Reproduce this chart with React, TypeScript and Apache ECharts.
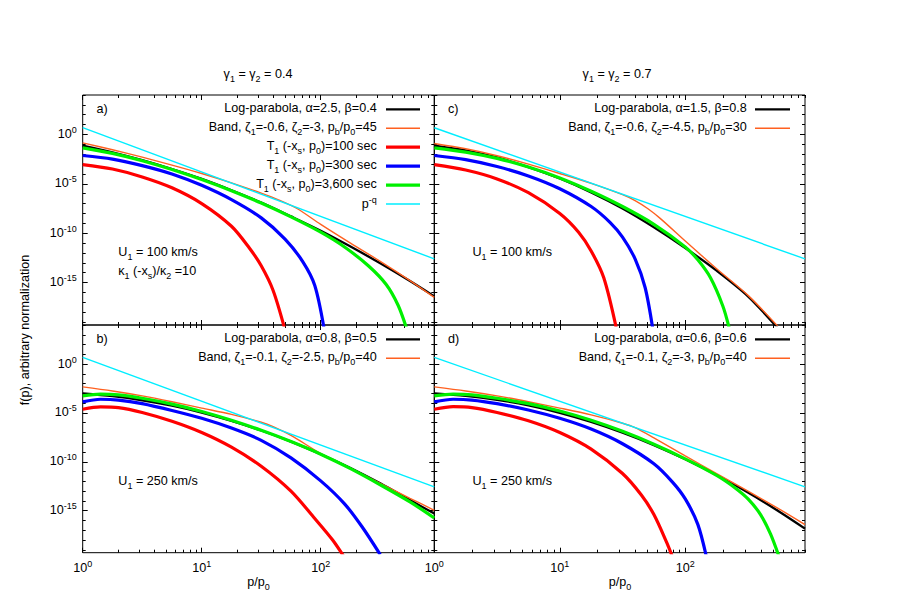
import { useEffect, useRef } from 'react';
import * as echarts from 'echarts';

// Every curve point is [log10(p/p0), log10 f(p)].
const A_LOGPAR = [[0,-1.12],[0.25,-1.8],[0.5,-2.6],[0.75,-3.5],[1,-4.5],[1.25,-5.65],[1.5,-6.9],[1.75,-8.3],[2,-9.75],[2.25,-11.35],[2.5,-13.05],[2.75,-14.85],[2.954,-16.4]];
const A_BAND = [[0,-0.85],[0.25,-1.55],[0.5,-2.3],[0.75,-3.1],[1,-3.95],[1.25,-4.9],[1.5,-5.95],[1.65,-6.65],[1.8,-7.5],[2,-9.1],[2.25,-11.0],[2.5,-12.85],[2.75,-14.8],[2.954,-16.5]];
const A_T100 = [[0,-3.05],[0.25,-3.5],[0.5,-4.3],[0.75,-5.4],[1,-7.0],[1.25,-9.3],[1.4,-11.5],[1.5,-13.3],[1.6,-15.8],[1.7,-19.8]];
const A_T300 = [[0,-2.13],[0.25,-2.5],[0.5,-3.15],[0.75,-4.0],[1,-5.15],[1.25,-6.6],[1.5,-8.45],[1.7,-10.6],[1.85,-12.9],[1.95,-15.3],[2.03,-19.8]];
const A_T3600 = [[0,-1.35],[0.25,-1.92],[0.5,-2.66],[0.75,-3.55],[1,-4.57],[1.25,-5.7],[1.5,-6.95],[1.75,-8.35],[2,-9.9],[2.2,-11.4],[2.4,-13.3],[2.55,-15.2],[2.65,-17.3],[2.72,-19.6]];
const A_PQ = [[0,0.7],[2.954,-12.6]];

const C_LOGPAR = [[0,-1.12],[0.25,-1.6],[0.5,-2.33],[0.75,-3.3],[1,-4.46],[1.25,-5.87],[1.5,-7.5],[1.75,-9.4],[2,-11.5],[2.25,-13.8],[2.5,-16.4],[2.75,-19.8]];
const C_BAND = [[0,-0.91],[0.25,-1.45],[0.5,-2.15],[0.75,-3.0],[1,-3.95],[1.25,-4.95],[1.5,-6.1],[1.6,-6.7],[1.7,-7.5],[1.8,-8.5],[2,-10.8],[2.25,-13.6],[2.5,-16.3],[2.75,-19.6]];
const C_T100 = [[0,-3.05],[0.25,-3.6],[0.5,-4.5],[0.75,-5.9],[1,-8.0],[1.15,-9.9],[1.25,-11.8],[1.35,-14.5],[1.45,-19.6]];
const C_T300 = [[0,-2.13],[0.25,-2.55],[0.5,-3.25],[0.75,-4.2],[1,-5.5],[1.25,-7.3],[1.4,-8.9],[1.5,-10.4],[1.6,-12.6],[1.68,-15.5],[1.74,-19.6]];
const C_T3600 = [[0,-1.35],[0.25,-1.78],[0.5,-2.42],[0.75,-3.3],[1,-4.4],[1.25,-5.75],[1.5,-7.3],[1.75,-9.1],[2,-11.4],[2.1,-12.7],[2.2,-14.5],[2.3,-17.4],[2.35,-19.6]];
const C_PQ = [[0,0.68],[2.954,-12.6]];

const B_LOGPAR = [[0,-3.01],[0.25,-3.28],[0.5,-3.7],[0.75,-4.26],[1,-4.96],[1.25,-5.81],[1.5,-6.8],[1.75,-7.93],[2,-9.22],[2.25,-10.63],[2.5,-12.2],[2.75,-13.91],[2.954,-15.3]];
const B_BAND = [[0,-2.33],[0.25,-2.75],[0.5,-3.25],[0.75,-3.85],[1,-4.5],[1.25,-5.15],[1.5,-5.95],[1.6,-6.4],[1.75,-7.3],[2,-9.15],[2.25,-10.7],[2.5,-12.2],[2.75,-13.73],[2.954,-14.96]];
const B_T100 = [[0,-4.62],[0.15,-4.38],[0.3,-4.45],[0.5,-4.95],[0.75,-5.85],[1,-7.0],[1.25,-8.5],[1.5,-10.45],[1.75,-13.0],[1.95,-15.8],[2.1,-18.0],[2.2,-19.8]];
const B_T300 = [[0,-3.87],[0.15,-3.6],[0.3,-3.68],[0.5,-4.05],[0.75,-4.75],[1,-5.55],[1.25,-6.55],[1.5,-7.8],[1.75,-9.6],[2,-11.95],[2.2,-14.3],[2.35,-16.7],[2.5,-19.5]];
const B_T3600 = [[0,-3.25],[0.15,-3.08],[0.3,-3.15],[0.5,-3.5],[0.75,-4.1],[1,-4.85],[1.25,-5.75],[1.5,-6.78],[1.75,-7.93],[2,-9.22],[2.25,-10.7],[2.5,-12.35],[2.75,-14.1],[2.954,-15.75]];
const B_PQ = [[0,0.68],[2.954,-12.56]];

const D_LOGPAR = [[0,-3.01],[0.25,-3.25],[0.5,-3.66],[0.75,-4.23],[1,-4.99],[1.25,-5.92],[1.5,-7.02],[1.75,-8.29],[2,-9.74],[2.25,-11.36],[2.5,-13.15],[2.75,-15.11],[2.954,-16.84]];
const D_BAND = [[0,-2.33],[0.25,-2.75],[0.5,-3.25],[0.75,-3.85],[1,-4.5],[1.25,-5.2],[1.5,-6.05],[1.6,-6.5],[1.75,-7.55],[2,-9.4],[2.25,-11.2],[2.5,-13.0],[2.75,-14.85],[2.954,-16.43]];
const D_T100 = [[0,-4.62],[0.15,-4.36],[0.3,-4.45],[0.5,-4.95],[0.75,-5.8],[1,-7.0],[1.25,-8.7],[1.5,-11.2],[1.65,-13.4],[1.75,-15.4],[1.85,-18.2],[1.9,-19.8]];
const D_T300 = [[0,-3.87],[0.15,-3.6],[0.3,-3.68],[0.5,-4.05],[0.75,-4.7],[1,-5.55],[1.25,-6.65],[1.5,-8.15],[1.75,-10.2],[1.9,-12.1],[2.0,-13.8],[2.1,-16.4],[2.17,-19.8]];
const D_T3600 = [[0,-3.25],[0.15,-3.08],[0.3,-3.15],[0.5,-3.5],[0.75,-4.05],[1,-4.8],[1.25,-5.75],[1.5,-6.88],[1.75,-8.2],[2,-9.7],[2.25,-11.4],[2.4,-12.7],[2.5,-13.8],[2.6,-15.4],[2.68,-17.4],[2.75,-19.8]];
const D_PQ = [[0,0.68],[2.954,-12.56]];

// Axis ranges (p/p0 from 1 to 900, f from 5e-20 to 1e4) and tick values
const P_RANGE = [1, 900];
const F_RANGE = [5e-20, 1e4];
const X_MAJOR_TICKS = [1, 10, 100];
const X_MINOR_TICKS = [2, 3, 4, 5, 6, 7, 8, 9, 20, 30, 40, 50, 60, 70, 80, 90, 200, 300, 400, 500, 600, 700, 800, 900];
const Y_DECADES = [-19, -18, -17, -16, -15, -14, -13, -12, -11, -10, -9, -8, -7, -6, -5, -4, -3, -2, -1, 0, 1, 2, 3, 4];
const Y_LABEL_DECADES = [-15, -10, -5, 0];

const LEGEND_A = [
  'Log-parabola, α=2.5, β=0.4',
  'Band, ζ_{1}=-0.6, ζ_{2}=-3, p_{b}/p_{0}=45',
  'T_{1} (-x_{s}, p_{0})=100 sec',
  'T_{1} (-x_{s}, p_{0})=300 sec',
  'T_{1} (-x_{s}, p_{0})=3,600 sec',
  'p^{-q}',
];
const LEGEND_C = ['Log-parabola, α=1.5, β=0.8', 'Band, ζ_{1}=-0.6, ζ_{2}=-4.5, p_{b}/p_{0}=30'];
const LEGEND_B = ['Log-parabola, α=0.8, β=0.5', 'Band, ζ_{1}=-0.1, ζ_{2}=-2.5, p_{b}/p_{0}=40'];
const LEGEND_D = ['Log-parabola, α=0.6, β=0.6', 'Band, ζ_{1}=-0.1, ζ_{2}=-3, p_{b}/p_{0}=40'];

const FONT = '"Liberation Sans", Arial, Helvetica, sans-serif';
const FS = 12.6;
const SFS = 9;

const STYLE = {
  logpar: { color: '#000000', width: 2.3 },
  band: { color: '#ff6020', width: 1.4 },
  t100: { color: '#ff0000', width: 3.2 },
  t300: { color: '#0000ff', width: 3.2 },
  t3600: { color: '#00f000', width: 3.2 },
  pq: { color: '#00eeff', width: 1.4 },
};

function toRich(s: string): string {
  let out = '';
  let buf = '';
  let i = 0;
  const flush = () => { if (buf) { out += `{n|${buf}}`; buf = ''; } };
  while (i < s.length) {
    const c = s[i];
    if ((c === '_' || c === '^') && s[i + 1] === '{') {
      const end = s.indexOf('}', i + 2);
      flush();
      out += `{${c === '_' ? 'sub' : 'sup'}|${s.slice(i + 2, end)}}`;
      i = end + 1;
    } else { buf += c; i++; }
  }
  flush();
  return out;
}

const RICH_G = {
  n: { fontSize: FS, fontFamily: FONT, fill: '#000', verticalAlign: 'bottom', padding: [0, 0, 3, 0] },
  sub: { fontSize: SFS, fontFamily: FONT, fill: '#000', verticalAlign: 'bottom', padding: [0, 0, 0, 0] },
  sup: { fontSize: SFS, fontFamily: FONT, fill: '#000', verticalAlign: 'bottom', padding: [0, 0, 9, 0] },
};
const RICH_L = {
  b: { fontSize: FS, fontFamily: FONT, color: '#000', verticalAlign: 'bottom', padding: [0, 0, 3, 0] },
  s: { fontSize: SFS, fontFamily: FONT, color: '#000', verticalAlign: 'bottom', padding: [0, 0, 9, 0] },
};

function txt(s: string, x: number, y: number, align = 'left', rotation = 0) {
  return {
    type: 'text', x, y, rotation, silent: true,
    style: { text: toRich(s), rich: RICH_G, align, verticalAlign: 'middle', font: `${FS}px ${FONT}` },
  };
}

export default function App() {
  const ref = useRef<HTMLDivElement>(null);
  useEffect(() => {
    if (!ref.current) return;
    const chart = echarts.init(ref.current, undefined, { renderer: 'svg' });
    const lg = Math.log10;
    const xMin = lg(P_RANGE[0]);
    const xMax = lg(P_RANGE[1]);
    const yMin = lg(F_RANGE[0]);
    const yMax = lg(F_RANGE[1]);
    const xMaj = X_MAJOR_TICKS.map(lg);
    const xMin2 = X_MINOR_TICKS.map(lg);

    const grids = [
      { left: 82.7, top: 95, width: 351.6, height: 230 },
      { left: 434.3, top: 95, width: 370.7, height: 230 },
      { left: 82.7, top: 325, width: 351.6, height: 227.7 },
      { left: 434.3, top: 325, width: 370.7, height: 227.7 },
    ].map((g) => ({ ...g, show: true, borderColor: '#000', borderWidth: 1, backgroundColor: 'transparent', containLabel: false, outerBoundsMode: 'none' }));

    const labelFmt = (v: number) => `{b|10}{s|${Math.round(v)}}`;
    const xAxes: any[] = [];
    const yAxes: any[] = [];
    const showX = [false, false, true, true];
    const showY = [true, false, true, false];
    for (let g = 0; g < 4; g++) {
      for (const pos of ['bottom', 'top']) {
        for (const major of [true, false]) {
          xAxes.push({
            type: 'value', gridIndex: g, min: xMin, max: xMax, position: pos,
            axisLine: { show: false, onZero: false }, splitLine: { show: false },
            axisTick: { show: true, inside: true, length: major ? 5 : 3, customValues: major ? xMaj : xMin2, lineStyle: { color: '#000', width: 1 } },
            axisLabel: pos === 'bottom' && major && showX[g]
              ? { show: true, customValues: xMaj, formatter: labelFmt, rich: RICH_L, margin: 7, fontFamily: FONT, fontSize: FS, color: '#000' }
              : { show: false },
          });
        }
      }
      for (const pos of ['left', 'right']) {
        for (const major of [true, false]) {
          yAxes.push({
            type: 'value', gridIndex: g, min: yMin, max: yMax, position: pos,
            axisLine: { show: false, onZero: false }, splitLine: { show: false },
            axisTick: { show: true, inside: true, length: major ? 5 : 3, customValues: major ? Y_LABEL_DECADES : Y_DECADES, lineStyle: { color: '#000', width: 1 } },
            axisLabel: pos === 'left' && major && showY[g]
              ? { show: true, customValues: Y_LABEL_DECADES, formatter: labelFmt, rich: RICH_L, margin: 6, fontFamily: FONT, fontSize: FS, color: '#000' }
              : { show: false },
          });
        }
      }
    }

    const panels = [
      [A_LOGPAR, A_BAND, A_T100, A_T300, A_T3600, A_PQ],
      [C_LOGPAR, C_BAND, C_T100, C_T300, C_T3600, C_PQ],
      [B_LOGPAR, B_BAND, B_T100, B_T300, B_T3600, B_PQ],
      [D_LOGPAR, D_BAND, D_T100, D_T300, D_T3600, D_PQ],
    ];
    const keys = ['logpar', 'band', 't100', 't300', 't3600', 'pq'] as const;
    const series: any[] = [];
    panels.forEach((list, g) => {
      list.forEach((data, k) => {
        const st = STYLE[keys[k]];
        series.push({
          type: 'line', xAxisIndex: g * 4, yAxisIndex: g * 4, data,
          showSymbol: false, smooth: 0.3, clip: true,
          lineStyle: { color: st.color, width: st.width }, z: 2 + k, silent: true,
        });
      });
    });

    const elements: any[] = [];
    const legendRows = (texts: string[], keysL: readonly string[], textRight: number, lineX0: number, lineX1: number, y0: number) => {
      texts.forEach((t, i) => {
        const y = y0 + i * 18.95;
        elements.push(txt(t, textRight, y, 'right'));
        const st = STYLE[keysL[i] as keyof typeof STYLE];
        elements.push({ type: 'line', silent: true, shape: { x1: lineX0, y1: y, x2: lineX1, y2: y }, style: { stroke: st.color, lineWidth: st.width } });
      });
    };
    legendRows(LEGEND_A, keys, 376.7, 386, 420, 109.3);
    legendRows(LEGEND_C, keys, 746.7, 755, 790, 109.3);
    legendRows(LEGEND_B, keys, 376.7, 386, 420, 339.3);
    legendRows(LEGEND_D, keys, 746.7, 755, 790, 339.3);

    elements.push(txt('γ_{1} = γ_{2} = 0.4', 258, 75, 'center'));
    elements.push(txt('γ_{1} = γ_{2} = 0.7', 617, 75, 'center'));
    elements.push(txt('a)', 96.5, 110));
    elements.push(txt('c)', 448, 110));
    elements.push(txt('b)', 96.5, 340));
    elements.push(txt('d)', 448, 340));
    elements.push(txt('U_{1} = 100 km/s', 118.3, 253));
    elements.push(txt('κ_{1} (-x_{s})/κ_{2} =10', 118.3, 272));
    elements.push(txt('U_{1} = 100 km/s', 472.5, 253));
    elements.push(txt('U_{1} = 250 km/s', 118.3, 482));
    elements.push(txt('U_{1} = 250 km/s', 472.5, 482));
    elements.push(txt('p/p_{0}', 258.5, 583, 'center'));
    elements.push(txt('p/p_{0}', 620, 583, 'center'));
    elements.push(txt('f(p), arbitrary normalization', 26, 330, 'center', Math.PI / 2));

    chart.setOption({
      animation: false,
      backgroundColor: '#ffffff',
      grid: grids,
      xAxis: xAxes,
      yAxis: yAxes,
      series,
      graphic: { elements },
    });
    return () => chart.dispose();
  }, []);
  return <div ref={ref} style={{ position: 'absolute', left: 0, top: 0, width: 913, height: 594 }} />;
}
